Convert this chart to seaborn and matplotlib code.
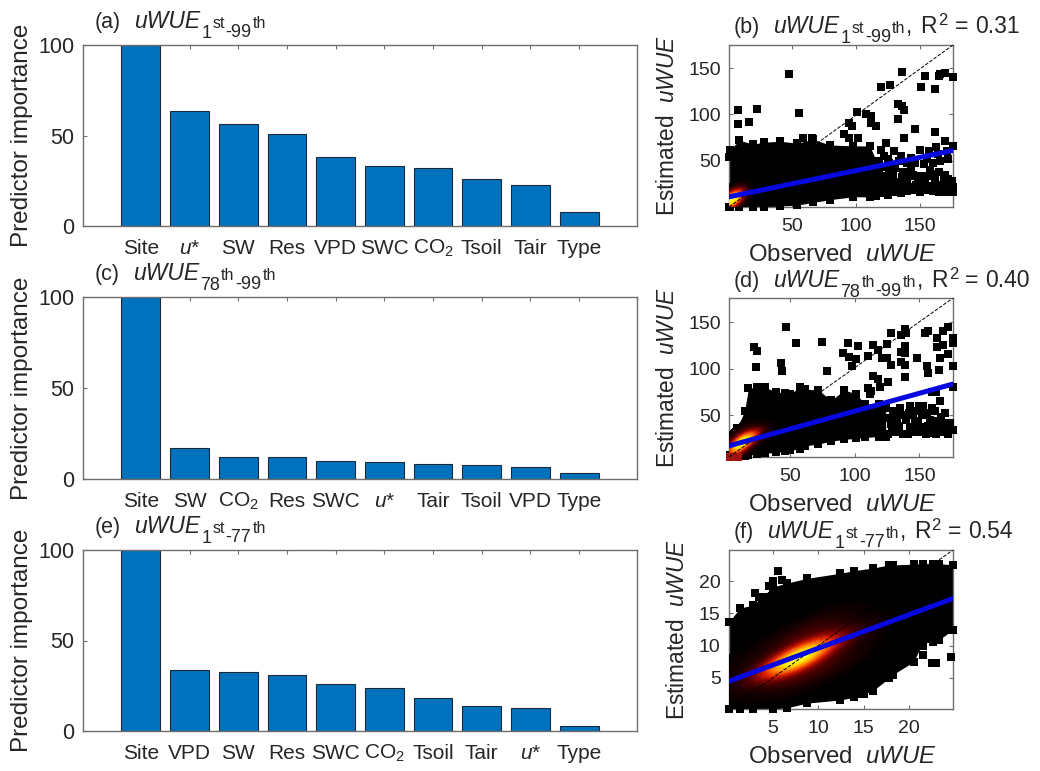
import matplotlib
matplotlib.use('Agg')
import matplotlib.pyplot as plt
import seaborn as sns
from matplotlib.colors import LinearSegmentedColormap

# bar panels
cats_a = ['Site', '$\\mathit{u}$*', 'SW', 'Res', 'VPD', 'SWC', 'CO$_2$', 'Tsoil', 'Tair', 'Type']
vals_a = [100, 63.5, 56.5, 51, 38, 33, 32, 26, 22.5, 8]
cats_c = ['Site', 'SW', 'CO$_2$', 'Res', 'SWC', '$\\mathit{u}$*', 'Tair', 'Tsoil', 'VPD', 'Type']
vals_c = [100, 17, 12, 12, 10, 9.5, 8, 7.5, 6.5, 3.5]
cats_e = ['Site', 'VPD', 'SW', 'Res', 'SWC', 'CO$_2$', 'Tsoil', 'Tair', '$\\mathit{u}$*', 'Type']
vals_e = [100, 33.5, 32.5, 31, 26, 23.5, 18.5, 14, 12.5, 3]

# panel b
cloud_x_b = [1, 2, 9, 20, 28, 41, 54, 67, 80, 98, 111, 116]
cloud_hi_b = [54, 62, 72, 68, 70, 71, 69, 73, 67, 66, 66, 50]
cloud_lo_b = [0, 0, 0, 0, 0, 1, 2, 5, 8, 11, 11, 12]
pts_x_b = [48, 8, 8.4, 16.5, 23, 56, 101, 59, 66, 95, 97, 91, 95, 102, 108, 112, 112, 116, 120, 127, 136,
           133, 136, 138, 133, 138, 146, 151, 154, 162, 162, 166, 165, 170, 176, 170, 176, 163, 157, 150,
           124, 120, 125, 130,
           116, 120, 125, 130, 135, 140, 146, 150, 155, 160, 165, 170, 176,
           116, 120, 118, 123, 128, 126, 132, 136, 131, 140, 143, 147, 150, 146, 154, 158, 153, 162, 165,
           160, 168, 172, 170, 174, 176, 166, 172, 156, 140, 134, 126, 118,
           118, 122, 127, 133, 138, 142, 148, 152, 157, 163, 167, 172, 119, 124, 129, 134, 139, 144, 149,
           121, 129, 137, 145, 156, 161, 169, 175, 122, 135, 143, 164, 171]
pts_y_b = [143.5, 105, 90, 92, 106, 102, 103, 75, 75, 91, 87, 79, 74, 74, 100, 98, 91, 88, 130, 132, 146,
           111, 109, 105, 95, 75, 84, 130, 142, 128, 81, 144, 142, 145, 140, 71, 66, 65, 60, 62,
           69, 62, 52, 60,
           14, 15, 13, 16, 15, 17, 18, 16, 18, 17, 16, 16, 16,
           25, 30, 38, 33, 28, 40, 24, 32, 42, 28, 40, 24, 34, 47, 26, 40, 46, 30, 38,
           48, 24, 30, 35, 20, 22, 50, 52, 52, 48, 50, 48, 48,
           20, 22, 20, 21, 22, 22, 21, 22, 23, 22, 23, 22, 32, 27, 34, 27, 36, 33, 29,
           43, 45, 38, 35, 33, 36, 31, 28, 55, 55, 53, 57, 60]
core_x_b = [1, 2, 3, 4, 6, 9, 14, 20, 2, 5, 8, 12, 3, 6, 10]
core_y_b = [5, 6, 8, 10, 11, 12, 14, 16, 14, 18, 20, 22, 2, 3, 5]
core_w_b = [3, 5, 6, 5, 3, 2, 1, 0.5, 1.5, 1, 0.7, 0.4, 1.5, 1, 0.6]
line_x_b = [1, 176]
line_y_b = [11, 61]

# panel d
cloud_x_d = [4, 9, 15, 18, 25, 31, 39, 46, 50, 58, 62, 72, 82, 92, 101, 108, 119, 124]
cloud_hi_d = [7, 36, 54, 79, 80, 80, 75, 74, 73, 80, 78, 77, 66, 77, 73, 62, 62, 58]
cloud_lo_d = [5, 5, 6, 7, 8, 9, 10, 11, 12, 14, 17, 19, 22, 24, 25, 26, 27, 27]
pts_x_d = [47, 75, 55, 22, 25, 24, 43, 44, 79, 95, 103, 91, 96, 101, 98, 110, 114, 118, 125, 128, 136, 139,
           140, 139, 136, 139, 121, 125, 128, 136, 139, 139, 148, 154, 157, 156, 157, 165, 164, 168, 172,
           164, 168, 166, 172, 176, 176, 176, 176, 176, 114, 118, 126, 120, 110, 113, 112, 160, 163,
           128, 126, 130, 133, 132, 141, 140, 146, 145, 150, 149, 155, 153, 159, 158, 163, 162, 168, 167,
           172, 171, 176, 174, 143, 152, 160, 166, 170, 148,
           129, 134, 137, 143, 148, 153, 157, 161, 165, 170, 174, 131, 136, 147, 152, 156, 164, 169,
           127, 135, 142, 150, 158]
pts_y_d = [145, 129, 128, 123, 119, 102, 106, 97, 97, 128, 124, 117, 113, 110, 103, 114, 125, 120, 127,
           138, 136, 143, 138, 124, 118, 117, 112, 111, 104, 107, 104, 91, 112, 138, 140, 103, 95, 99, 133,
           140, 145, 123, 125, 112, 116, 133, 129, 128, 103, 80, 92, 89, 86, 80, 79, 76, 73, 75, 75,
           40, 30, 55, 45, 32, 30, 45, 32, 50, 32, 42, 30, 60, 31, 45, 30, 55, 32, 48,
           30, 42, 34, 42, 60, 58, 58, 65, 52, 55,
           36, 38, 30, 37, 38, 37, 38, 37, 38, 37, 36, 50, 50, 44, 50, 52, 44, 42,
           47, 58, 52, 60, 40]
red_x_d = [4, 7, 10]
red_y_d = [5.5, 5.5, 5.5]
core_x_d = [6, 9, 12, 16, 20, 26, 34, 8, 12, 18, 26, 10, 16, 24, 36]
core_y_d = [10, 16, 20, 25, 27, 30, 32, 24, 32, 38, 42, 10, 14, 20, 24]
core_w_d = [2, 4, 5, 4, 3, 1.5, 0.7, 1.5, 1, 0.6, 0.3, 1.5, 1, 0.6, 0.3]
line_x_d = [3, 176]
line_y_d = [17, 83.5]

# panel f
cloud_x_f = [0.15, 1.36, 2.8, 5.0, 6.6, 8.7, 12.4, 13.9, 16, 17.8, 18.2, 20.5, 21.5, 22.6, 23.3, 24.8]
cloud_hi_f = [13.7, 15.8, 16.3, 19.1, 19.7, 20.4, 21.2, 21.6, 22, 22.5, 22.5, 22.6, 22.7, 22.7, 22.7, 22.5]
cloud_lo_f = [0.2, 0.2, 0.2, 0.2, 0.4, 1.1, 1.6, 2.0, 3, 5, 5.5, 7.5, 10.4, 10.6, 10.9, 12.4]
pts_x_f = [3.0, 3.5, 4.2, 4.6, 5.0, 5.5, 6.0, 14.3, 15, 21.5, 22.5, 23, 24.6, 21.5, 22.3]
pts_y_f = [18.2, 17.5, 17.5, 19.2, 20, 21.6, 20.2, 2.5, 2.5, 8.5, 7.3, 7.3, 8.2, 10, 11]
core_x_f = [0.5, 2, 4, 5.5, 6.5, 7.5, 8.5, 9.5, 11, 13, 15, 17, 2, 5, 8, 11, 14, 4, 7, 10, 13, 16, 1, 1]
core_y_f = [4, 4.5, 6, 6.7, 7.2, 7.8, 8.6, 9.5, 10.5, 11.3, 12.5, 13.5, 8, 10, 12, 14, 15, 3, 4, 6, 8, 10, 1.5, 7]
core_w_f = [0.5, 0.7, 1.5, 3, 4, 5, 5, 4, 2.5, 1.5, 0.8, 0.4, 0.5, 1.2, 2, 1.6, 0.7, 0.7, 1.6, 2, 1.4, 0.5, 0.3, 0.5]
line_x_f = [0.15, 24.85]
line_y_f = [4.5, 17.3]

W, H = 1040, 771
TXT = '#262626'
EDGE = '#6e6e6e'

sns.set_style('ticks')
plt.rcParams['font.family'] = ['Liberation Sans', 'DejaVu Sans']
plt.rcParams['mathtext.fontset'] = 'custom'
plt.rcParams['mathtext.rm'] = 'Liberation Sans'
plt.rcParams['mathtext.it'] = 'Liberation Sans:italic'
plt.rcParams['mathtext.bf'] = 'Liberation Sans:bold'
plt.rcParams['mathtext.default'] = 'rm'

hot_map = LinearSegmentedColormap.from_list(
    'heat', ['#000000', '#200000', '#500000', '#900800', '#d82000', '#f86000', '#ffa000', '#ffe000', '#ffff40'])


def make_ax(fig, l, t, r, b):
    ax = fig.add_axes([l / W, 1 - b / H, (r - l) / W, (b - t) / H])
    return ax


def style_ax(ax):
    ax.tick_params(direction='in', top=True, right=False, length=3, width=0.8, color=EDGE,
                   labelcolor=TXT, labelsize=15)
    for s in ax.spines.values():
        s.set_visible(True)
        s.set_color(EDGE)
        s.set_linewidth(1.0)


def bar_panel(fig, t, b, cats, vals):
    ax = make_ax(fig, 83, t, 637, b)
    sns.barplot(x=list(range(len(cats))), y=vals, color='#0072BD', saturation=1, width=0.8,
                edgecolor='#1c2a38', linewidth=0.8, ax=ax)
    ax.set_xlim(-1.19, 10.19)
    ax.set_ylim(0, 100)
    ax.set_yticks([0, 50, 100])
    ax.set_xticks(range(len(cats)))
    ax.set_xticklabels(cats)
    style_ax(ax)
    ax.tick_params(axis='y', labelsize=15.5, pad=6)
    ax.tick_params(axis='x', pad=20)
    for lab in ax.get_xticklabels():
        lab.set_va('baseline')
    ax.set_xlabel('')
    ax.set_ylabel('')
    fig.text(22 / W, 1 - (t + b) / 2 / H, 'Predictor importance', rotation=90, ha='center', va='center',
             fontsize=17.5, color=TXT)
    return ax


def scatter_panel(fig, t, b, xlim, ylim, xt, yt, cx, chi, clo, px, py, kx, ky, kw, lx, ly, bw, ylab_x):
    ax = make_ax(fig, 729, t, 953, b)
    ax.fill_between(cx, clo, chi, color='black', lw=0)
    for ex, ey in [(cx, chi), (cx, clo), (px, py)]:
        sns.scatterplot(x=ex, y=ey, marker='s', color='black', s=27, linewidth=0, clip_on=False, ax=ax, zorder=3)
    sns.kdeplot(x=kx, y=ky, weights=kw, fill=True, levels=30, thresh=0.03, cmap=hot_map, bw_adjust=bw,
                gridsize=200, ax=ax, zorder=4)
    sns.lineplot(x=[xlim[0], xlim[1]], y=[ylim[0], ylim[1]], color='black', lw=0.7, linestyle='--', ax=ax, zorder=5)
    sns.lineplot(x=lx, y=ly, color='#0808e0', lw=3.6, ax=ax, zorder=6)
    ax.set_xlim(*xlim)
    ax.set_ylim(*ylim)
    ax.set_xticks(xt)
    ax.set_yticks(yt)
    style_ax(ax)
    ax.tick_params(labelsize=14, right=True)
    ax.tick_params(axis='x', pad=8)
    ax.tick_params(axis='y', pad=6)
    ax.set_xlabel('')
    ax.set_ylabel('')
    fig.text(842 / W, 1 - (b + 48) / H, 'Observed  $\\mathit{uWUE}$', ha='center', va='center',
             fontsize=17.3, color=TXT)
    fig.text(ylab_x / W, 1 - (t + b) / 2 / H, 'Estimated  $\\mathit{uWUE}$', rotation=90, ha='center',
             va='center', fontsize=16.3, color=TXT)
    return ax


def title_runs(fig, x, y, runs):
    # runs: text, drop in px, size, italic, gap after in px
    rend = fig.canvas.get_renderer()
    for s, dy, size, ital, gap in runs:
        t = fig.text(x / W, 1 - (y + dy) / H, s, ha='left', va='baseline', fontsize=size,
                     style='italic' if ital else 'normal', color=TXT)
        x += t.get_window_extent(rend).width + gap


def title_head(tag, lo, hi):
    return [(tag, 0, 15.5, False, 13), ('uWUE', 0, 16.5, True, 1), (lo[0], 10, 13, False, 1), (lo[1], 0, 11.5, False, 1),
            (hi[0], 9, 13, False, 1), (hi[1], 0, 11.5, False, 1)]


def r2_tail(val):
    return [(',', 0, 16.5, False, 8), ('R', 0, 16.5, False, 1), ('2', -8, 12, False, 7), ('=', 0, 16.5, False, 7),
            (val, 0, 16.5, False, 0)]


fig = plt.figure(figsize=(W / 100, H / 100), dpi=100)

bar_panel(fig, 45, 226, cats_a, vals_a)
bar_panel(fig, 297, 479, cats_c, vals_c)
bar_panel(fig, 550, 731, cats_e, vals_e)

scatter_panel(fig, 45, 207, (1, 176), (0, 175), [50, 100, 150], [50, 100, 150],
              cloud_x_b, cloud_hi_b, cloud_lo_b, pts_x_b, pts_y_b, core_x_b, core_y_b, core_w_b,
              line_x_b, line_y_b, 2.2, 667)
axd = scatter_panel(fig, 298, 457, (3, 176), (5, 176), [50, 100, 150], [50, 100, 150],
                    cloud_x_d, cloud_hi_d, cloud_lo_d, pts_x_d, pts_y_d, core_x_d, core_y_d, core_w_d,
                    line_x_d, line_y_d, 1.4, 667)
sns.scatterplot(x=red_x_d, y=red_y_d, marker='s', color='#a01410', s=27, linewidth=0, clip_on=False, ax=axd, zorder=4)
scatter_panel(fig, 550, 709, (0.15, 24.85), (0.2, 24.8), [5, 10, 15, 20], [5, 10, 15, 20],
              cloud_x_f, cloud_hi_f, cloud_lo_f, pts_x_f, pts_y_f, core_x_f, core_y_f, core_w_f,
              line_x_f, line_y_f, 1.1, 678)

title_runs(fig, 95, 28, title_head('(a)', ('1', 'st'), ('-99', 'th')))
title_runs(fig, 95, 280, title_head('(c)', ('78', 'th'), ('-99', 'th')))
title_runs(fig, 95, 533, title_head('(e)', ('1', 'st'), ('-77', 'th')))
title_runs(fig, 734, 33, title_head('(b)', ('1', 'st'), ('-99', 'th')) + r2_tail('0.31'))
title_runs(fig, 734, 287, title_head('(d)', ('78', 'th'), ('-99', 'th')) + r2_tail('0.40'))
title_runs(fig, 734, 538, title_head('(f)', ('1', 'st'), ('-77', 'th')) + r2_tail('0.54'))

fig.savefig('out.png', dpi=100)
